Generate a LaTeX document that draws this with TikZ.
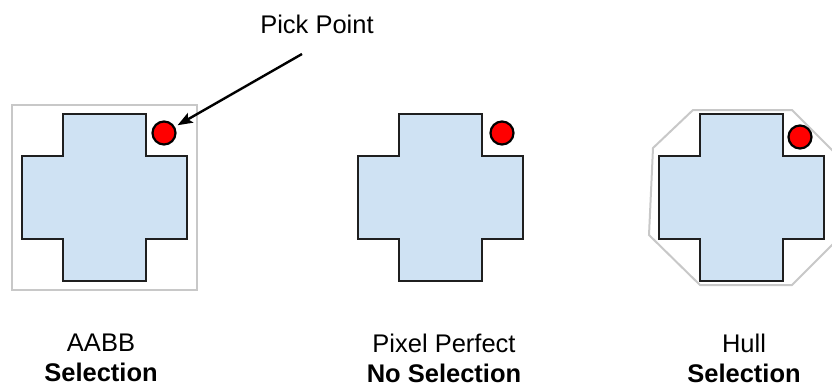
\documentclass[tikz,border=0pt]{standalone}
\usepackage{fontspec}
\setmainfont{Liberation Sans}
\usetikzlibrary{arrows.meta}

\definecolor{crossfill}{RGB}{207,226,243}
\definecolor{boxgray}{RGB}{200,200,200}

\tikzset{
    crossline/.style={draw=black!88, line width=2.8pt, fill=crossfill, line join=miter},
    boundline/.style={draw=boxgray, line width=2pt},
    pickdot/.style={circle, draw=black, line width=2.2pt, fill=red, minimum size=23pt, inner sep=0pt},
    caption/.style={align=center, inner sep=0pt, font=\fontsize{25.5}{30}\selectfont},
    pics/plus/.style={code={
        \draw[crossline] (41,0) -- (124,0) -- (124,42) -- (165,42) -- (165,125) -- (124,125)
            -- (124,167) -- (41,167) -- (41,125) -- (0,125) -- (0,42) -- (41,42) -- cycle;
    }}
}

\begin{document}
\begin{tikzpicture}[x=1pt, y=-1pt]
    \useasboundingbox (0,0) rectangle (832,389);
    \clip (0,0) rectangle (832,389);

    % bounding shapes
    \draw[boundline] (12,105) rectangle (197,290);
    \draw[boundline] (693,110) -- (792,110) -- (837,155) -- (837,240) -- (792,285)
        -- (700,285) -- (649,235) -- (653,148) -- cycle;

    % the three crosses
    \pic at (22,114) {plus};
    \pic at (358,114) {plus};
    \pic at (659,114) {plus};

    % pick points
    \node[pickdot] (dotA) at (164,133) {};
    \node[pickdot] (dotP) at (502,133) {};
    \node[pickdot] (dotH) at (800,137) {};

    \node[caption] (pick) at (317,24) {Pick Point};
    \coordinate (pickfoot) at (302,54);
    \draw[line width=2.4pt, -{Stealth[length=15pt, width=11pt, inset=3pt]}, shorten >=3pt]
        (pickfoot) -- (dotA);

    % captions
    \node[caption] (aabb) at (101,358) {AABB\\\textbf{Selection}};
    \node[caption] (pixel) at (444,358) {Pixel Perfect\\\textbf{No Selection}};
    \node[caption] (hull) at (744,358) {Hull\\\textbf{Selection}};
\end{tikzpicture}
\end{document}
